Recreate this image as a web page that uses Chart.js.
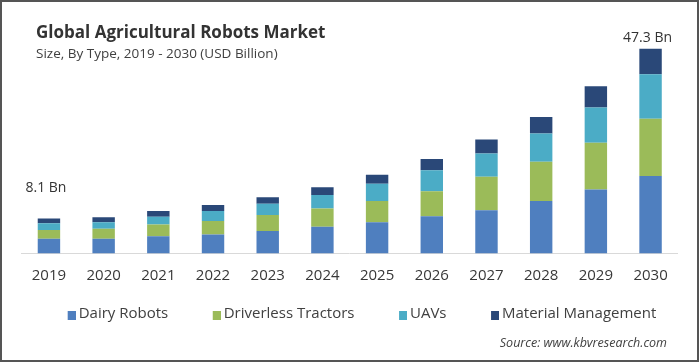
<!DOCTYPE html>
<html>
<head>
<meta charset="utf-8">
<script src="https://cdn.jsdelivr.net/npm/chart.js"></script>
<style>
  html, body { margin: 0; padding: 0; background: #fff; }
  #wrap { position: relative; width: 700px; height: 363px; overflow: hidden; font-family: "Open Sans", sans-serif; }
  #c { position: absolute; left: 0; top: 0; }
  #title { position: absolute; left: 36px; top: 21px; font-size: 17px; font-weight: 700; color: #333; line-height: 22px; white-space: nowrap; }
  #subtitle { position: absolute; left: 36px; top: 45px; font-size: 13.5px; color: #404040; line-height: 16px; white-space: nowrap; }
  #source { position: absolute; right: 33px; top: 334px; font-size: 12.5px; font-style: italic; color: #404040; line-height: 18px; white-space: nowrap; }
  #frame { position: absolute; left: 0; top: 0; width: 699px; height: 362px; box-sizing: border-box; border: 2px solid #555; pointer-events: none; }
</style>
</head>
<body>
<div id="wrap">
  <canvas id="c" width="700" height="363"></canvas>
  <div id="title">Global Agricultural Robots Market</div>
  <div id="subtitle">Size, By Type, 2019 - 2030 (USD Billion)</div>
  <div id="source">Source: www.kbvresearch.com</div>
  <div id="frame"></div>
</div>
<script>
const years = ['2019','2020','2021','2022','2023','2024','2025','2026','2027','2028','2029','2030'];
const dairyRobots = [3.4, 3.4, 4.0, 4.4, 5.2, 6.2, 7.2, 8.6, 10.0, 12.1, 14.8, 17.9];
const driverlessTractors = [2.0, 2.3, 2.7, 3.1, 3.7, 4.2, 4.9, 5.8, 7.7, 9.1, 10.8, 13.2];
const uavs = [1.6, 1.5, 1.8, 2.3, 2.6, 3.1, 4.0, 4.8, 5.4, 6.5, 8.1, 10.3];
const materialManagement = [1.1, 1.2, 1.3, 1.4, 1.5, 1.8, 2.1, 2.6, 3.2, 3.8, 4.9, 5.9];
const totalLabels = ['8.1 Bn', '', '', '', '', '', '', '', '', '', '', '47.3 Bn'];
const seriesNames = ['Dairy Robots', 'Driverless Tractors', 'UAVs', 'Material Management'];
const seriesColors = ['#4f7fbf', '#9bbb59', '#4bacc6', '#2a4878'];

// legend marker: transparent cell (item spacing) with the square at its right end
const MARK_W = 40;
function makeMarker(color) {
  const cv = document.createElement('canvas');
  cv.width = MARK_W + 9; cv.height = 14;
  const g = cv.getContext('2d');
  g.fillStyle = color;
  g.fillRect(MARK_W + 1, 4, 8, 9);
  return cv;
}
const markers = seriesColors.map(makeMarker);

const legendShift = {
  id: 'legendShift',
  afterLayout(chart) {
    if (chart.legend) { chart.legend.left -= 6; chart.legend.right -= 6; }
  }
};

const totalsPlugin = {
  id: 'totals',
  afterDatasetsDraw(chart) {
    const { ctx, scales: { x, y } } = chart;
    ctx.save();
    ctx.font = '14px "Open Sans"';
    ctx.fillStyle = '#333';
    ctx.textAlign = 'center';
    ctx.textBaseline = 'middle';
    totalLabels.forEach((t, i) => {
      if (!t) return;
      const sum = dairyRobots[i] + driverlessTractors[i] + uavs[i] + materialManagement[i];
      const px = x.getPixelForValue(i);
      const py = y.getPixelForValue(sum);
      const off = i === 0 ? 30 : 11;
      ctx.fillText(t, px - 3, py - off);
    });
    ctx.restore();
  }
};

const seriesData = [dairyRobots, driverlessTractors, uavs, materialManagement];

new Chart(document.getElementById('c'), {
  type: 'bar',
  data: {
    labels: years,
    datasets: seriesNames.map((n, i) => ({
      label: n,
      data: seriesData[i],
      backgroundColor: seriesColors[i],
      borderWidth: 0,
      barPercentage: 0.41,
      categoryPercentage: 1.0
    }))
  },
  options: {
    responsive: false,
    animation: false,
    devicePixelRatio: 1,
    layout: { padding: { left: 21.6, right: 22.1, top: 37, bottom: 31.5 } },
    plugins: {
      legend: {
        position: 'bottom',
        labels: {
          usePointStyle: true,
          pointStyleWidth: MARK_W,
          padding: 8,
          color: '#404040',
          font: { family: 'Open Sans', size: 15 },
          generateLabels(chart) {
            const items = Chart.defaults.plugins.legend.labels.generateLabels(chart);
            items.forEach((it, i) => { it.pointStyle = markers[i]; });
            return items;
          }
        }
      },
      tooltip: { enabled: false },
      title: { display: false }
    },
    scales: {
      x: {
        stacked: true,
        grid: { display: false, drawTicks: false },
        border: { display: true, color: '#d9d9d9', width: 1 },
        ticks: { color: '#383838', font: { family: 'Open Sans', size: 15 }, padding: 13.5 }
      },
      y: {
        stacked: true,
        display: false,
        min: 0,
        max: 50
      }
    }
  },
  plugins: [totalsPlugin, legendShift]
});
</script>
</body>
</html>
